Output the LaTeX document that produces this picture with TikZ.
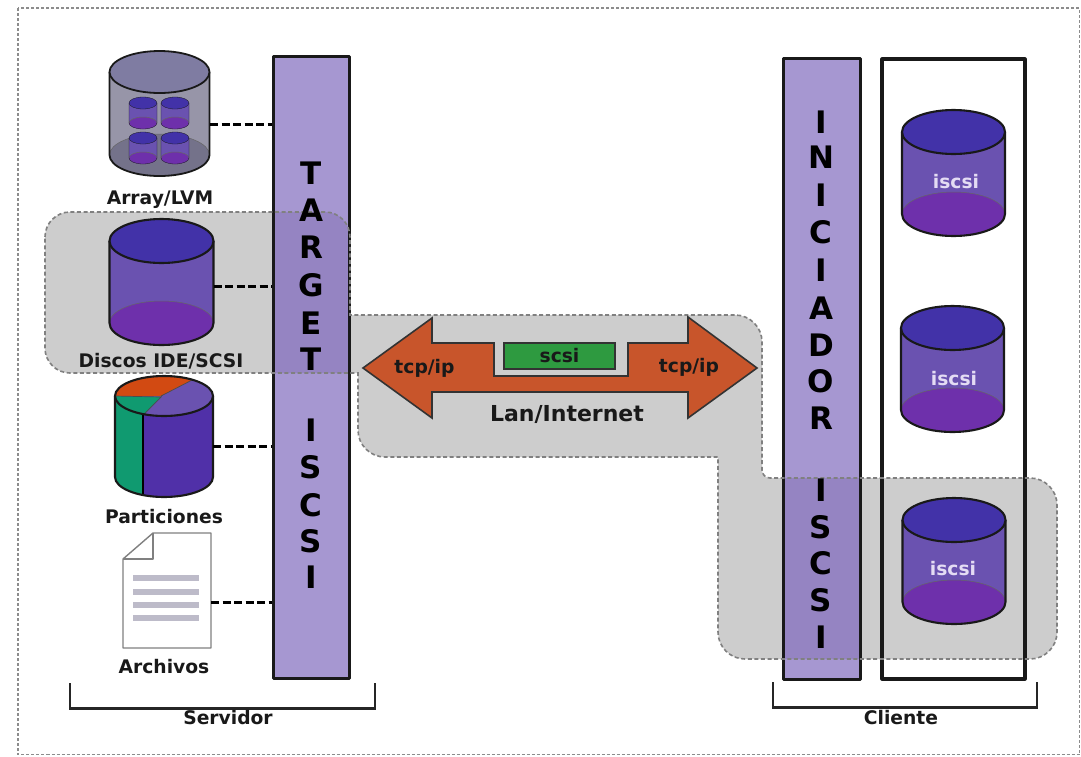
\documentclass[tikz,border=0pt]{standalone}
\usepackage{fontspec}
\setmainfont{DejaVu Sans}[BoldFont={DejaVu Sans Bold}]
\definecolor{pillar}{HTML}{A697D1}
\definecolor{pillardark}{HTML}{9584C2}
\definecolor{regiongrey}{HTML}{CDCDCD}
\definecolor{cyltop}{HTML}{4232A8}
\definecolor{cylside}{HTML}{6A52B0}
\definecolor{cylbot}{HTML}{6E30AB}
\definecolor{arrtop}{HTML}{7F7CA2}
\definecolor{arrside}{HTML}{9795A8}
\definecolor{arrbot}{HTML}{74728A}
\definecolor{partgreen}{HTML}{109A70}
\definecolor{partpurple}{HTML}{5030A8}
\definecolor{partorange}{HTML}{D24A12}
\definecolor{arrowfill}{HTML}{C8552B}
\definecolor{scsifill}{HTML}{2E9A40}
\definecolor{doclines}{HTML}{BDBBC9}
\definecolor{iscsitext}{HTML}{E4DCF4}
\tikzset{
  x=1pt,y=-1pt,
  pillarbox/.style={draw=black!90,line width=3pt,fill=pillar,line join=round,inner sep=0pt},
  bigletter/.style={font=\fontsize{31}{31}\selectfont\bfseries,inner sep=0pt,text=black},
  lbl/.style={font=\fontsize{18.7}{20}\selectfont\bfseries,inner sep=0pt,text=black!90,anchor=base},
  lblwhite/.style={font=\fontsize{18.7}{20}\selectfont\bfseries,inner sep=0pt,text=iscsitext,anchor=base},
  dashcon/.style={line width=3pt,dash pattern=on 8pt off 3.5pt,black},
  bracket/.style={line width=2.4pt,black!85},
  regionline/.style={draw=black!50,line width=1.6pt,dash pattern=on 4pt off 2.6pt},
}
\newcommand\regionpath{%
  (45,237) arc[start angle=180,end angle=90,radius=25pt] -- (325,212)
  arc[start angle=90,end angle=0,radius=25pt] -- (350,315) -- (735,315)
  arc[start angle=90,end angle=0,radius=27pt] -- (762,470)
  arc[start angle=180,end angle=270,radius=8pt] -- (1030,478)
  arc[start angle=90,end angle=0,radius=27pt] -- (1057,632)
  arc[start angle=0,end angle=-90,radius=27pt] -- (745,659)
  arc[start angle=270,end angle=180,radius=27pt] -- (718,457) -- (385,457)
  arc[start angle=270,end angle=180,radius=27pt] -- (358,373) -- (70,373)
  arc[start angle=270,end angle=180,radius=25pt] -- cycle}
% cx, top centre y, rx, ry, bottom centre y, side, top, bottom, line width
\newcommand\cylshape[9]{%
  \fill[#6] ({#1-#3},#2) -- ({#1-#3},#5) arc[start angle=180,end angle=360,x radius=#3pt,y radius=#4pt] -- ({#1+#3},#2) -- cycle;
  \fill[#8] (#1,#5) ellipse[x radius=#3pt,y radius=#4pt];
  \draw[black!60,line width=.5pt] ({#1-#3},#5) arc[start angle=180,end angle=0,x radius=#3pt,y radius=#4pt];
  \draw[black!90,line width=#9pt] ({#1-#3},#2) -- ({#1-#3},#5) arc[start angle=180,end angle=360,x radius=#3pt,y radius=#4pt] -- ({#1+#3},#2);
  \draw[black!90,line width=#9pt,fill=#7] (#1,#2) ellipse[x radius=#3pt,y radius=#4pt];
}
\begin{document}
\begin{tikzpicture}
\useasboundingbox (0,0) rectangle (1081,756);
\fill[white] (0,0) rectangle (1081,756);
\draw[black!45,line width=1.4pt,dash pattern=on 3pt off 2pt] (18,8) rectangle (1079.5,754.5);

% grey shaded region
\fill[regiongrey] \regionpath;

% pillars and client frame
\node[pillarbox,minimum width=76pt,minimum height=622pt] (target) at (311,367) {};
\node[pillarbox,minimum width=77pt,minimum height=621pt] (initiator) at (821.5,368.5) {};
\begin{scope}
  \clip \regionpath;
  \fill[pillardark] (274.5,57.5) rectangle (347.5,676.5);
  \fill[pillardark] (784.5,59.5) rectangle (858.5,677.5);
\end{scope}
\node[draw=black!90,line width=3.2pt,inner sep=0pt,minimum width=143pt,minimum height=620pt,line join=round] (clientframe) at (953.5,369) {};
\path[regionline] \regionpath;

% vertical lettering
\foreach \ch/\yy [count=\i] in {T/173,A/210,R/247,G/285,E/323,T/359,I/430,S/467,C/505,S/541,I/577}
  \node[bigletter] (tl\i) at (311,\yy) {\ch};
\foreach \ch/\yy [count=\i] in {I/122,N/157,I/195,C/232,I/270,A/308,D/345,O/381,R/418,I/490,S/527,C/563,S/600,I/637}
  \node[bigletter] (il\i) at (821,\yy) {\ch};

% array cylinder
\cylshape{159.5}{72}{50}{21}{155}{arrside}{arrtop}{arrbot}{1.8}
\foreach \xx in {143,175}{
  \cylshape{\xx}{103}{14}{6}{123}{cylside}{cyltop}{cylbot}{.3}
  \cylshape{\xx}{138}{14}{6}{158}{cylside}{cyltop}{cylbot}{.3}
}
% disk cylinder
\cylshape{161.5}{241}{52}{22}{323}{cylside}{cyltop}{cylbot}{2.1}
% partitions cylinder
\fill[partpurple] (115,396) -- (115,477) arc[start angle=180,end angle=360,x radius=49pt,y radius=20pt] -- (213,396) -- cycle;
\fill[partgreen] (115,396) -- (115,477) arc[start angle=180,end angle=244.6,x radius=49pt,y radius=20pt] -- (143,414) -- cycle;
\draw[black,line width=1.6pt] (143,414) -- (143,495);
\draw[black!90,line width=2.1pt] (115,396) -- (115,477) arc[start angle=180,end angle=360,x radius=49pt,y radius=20pt] -- (213,396);
\fill[cylside] (164,396) ellipse[x radius=49pt,y radius=20pt];
\begin{scope}
  \clip (164,396) ellipse[x radius=49pt,y radius=20pt];
  \fill[partorange] (110,396) -- (161,396) -- (196,378) -- (196,370) -- (110,370) -- cycle;
  \fill[partgreen] (110,396) -- (161,397) -- (141,418) -- (110,420) -- cycle;
  \draw[black!70,line width=.7pt] (161,396) -- (196,378) (115,396) -- (161,397) -- (143,415);
\end{scope}
\draw[black!90,line width=2.1pt] (164,396) ellipse[x radius=49pt,y radius=20pt];

% document icon
\draw[black!50,line width=1.4pt,fill=white,line join=round] (153,533) -- (211,533) -- (211,648) -- (123,648) -- (123,559) -- cycle;
\draw[black!50,line width=1.4pt,line join=round] (153,533) -- (153,559) -- (123,559);
\foreach \yy in {578,592,605,618}
  \draw[doclines,line width=5.5pt] (133,\yy) -- (199,\yy);

% client cylinders
\cylshape{953.5}{132}{51.5}{22}{214}{cylside}{cyltop}{cylbot}{2.1}
\cylshape{952.5}{328}{51.5}{22}{410}{cylside}{cyltop}{cylbot}{2.1}
\cylshape{954}{520}{51.5}{22}{602}{cylside}{cyltop}{cylbot}{2.1}
\node[lblwhite] (iscsia) at (956,188) {iscsi};
\node[lblwhite] (iscsib) at (954,385) {iscsi};
\node[lblwhite] (iscsic) at (953,575) {iscsi};

% connectors
\coordinate (conarray) at (210,124);
\coordinate (condisk) at (213.5,286);
\coordinate (conpart) at (213,446);
\coordinate (condoc) at (211,602);
\draw[dashcon] (conarray) -- (conarray -| target.west);
\draw[dashcon] (condisk) -- (condisk -| target.west);
\draw[dashcon] (conpart) -- (conpart -| target.west);
\draw[dashcon] (condoc) -- (condoc -| target.west);

% double arrow with tcp/ip
\draw[fill=arrowfill,draw=black!80,line width=1.6pt,line join=miter]
  (363,368) -- (432,318) -- (432,343) -- (494,343) -- (494,376) -- (628,376) -- (628,343)
  -- (688,343) -- (688,317) -- (757,368) -- (688,418) -- (688,392) -- (432,392) -- (432,418) -- cycle;
\node[draw=black!80,fill=scsifill,line width=1.6pt,minimum width=111pt,minimum height=26pt,inner sep=0pt] (scsibox) at (559.5,356) {};
\node[lbl] (scsi) at (559.5,362) {scsi};
\node[lbl] (tcpl) at (424.5,373) {tcp/ip};
\node[lbl] (tcpr) at (689,372) {tcp/ip};
\node[lbl,font=\fontsize{22}{24}\selectfont\bfseries] (lan) at (567,421.5) {Lan/Internet};

% labels
\node[lbl] (larray) at (160,204) {Array/LVM};
\node[lbl] (ldisk) at (161,367) {Discos IDE/SCSI};
\node[lbl] (lpart) at (164,523) {Particiones};
\node[lbl] (larch) at (164,673) {Archivos};

% brackets
\coordinate (sa) at (70,683); \coordinate (sb) at (375,683);
\coordinate (ca) at (773,682); \coordinate (cb) at (1037,682);
\draw[bracket] (sa) -- ++(0,25.5) -| (sb);
\draw[bracket] (ca) -- ++(0,25.5) -| (cb);
\node[lbl] (lserv) at (228,724) {Servidor};
\node[lbl] (lcli) at (901,724.5) {Cliente};
\end{tikzpicture}
\end{document}
